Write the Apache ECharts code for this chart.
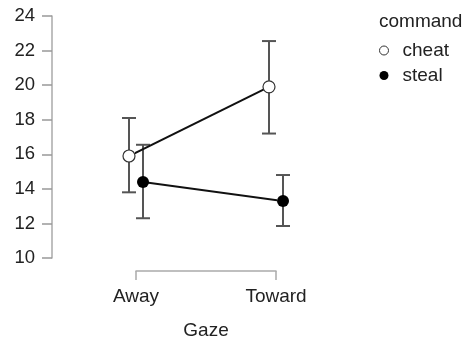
<!DOCTYPE html>
<html>
<head>
<meta charset="utf-8">
<script src="https://cdn.jsdelivr.net/npm/echarts@6/dist/echarts.min.js"></script>
<style>html,body{margin:0;padding:0;background:#fff}#c{width:463px;height:341px}</style>
</head>
<body>
<div id="c"></div>
<script>
var categories = ['Away', 'Toward'];
var cheatMean = [15.9, 19.9];
var cheatLow = [13.8, 17.2];
var cheatHigh = [18.1, 22.55];
var stealMean = [14.4, 13.3];
var stealLow = [12.3, 11.85];
var stealHigh = [16.55, 14.8];
var yTicks = [10, 12, 14, 16, 18, 20, 22, 24];
var dodge = 0.05;
var FONT = 'Liberation Sans, Arial, sans-serif';

function pts(mean, off) { return mean.map(function (v, i) { return [i + 1 + off, v]; }); }
function errs(lo, hi, off) { return lo.map(function (v, i) { return [i + 1 + off, v, hi[i]]; }); }

function errRender(params, api) {
  var x = api.value(0);
  var p1 = api.coord([x, api.value(1)]);
  var p2 = api.coord([x, api.value(2)]);
  var w = 7;
  var st = { stroke: '#555', lineWidth: 2 };
  return {
    type: 'group',
    children: [
      { type: 'line', shape: { x1: p1[0], y1: p1[1], x2: p2[0], y2: p2[1] }, style: st },
      { type: 'line', shape: { x1: p1[0] - w, y1: p1[1], x2: p1[0] + w, y2: p1[1] }, style: st },
      { type: 'line', shape: { x1: p2[0] - w, y1: p2[1], x2: p2[0] + w, y2: p2[1] }, style: st }
    ]
  };
}

var chart = echarts.init(document.getElementById('c'));
chart.setOption({
  animation: false,
  textStyle: { fontFamily: FONT },
  title: {
    text: 'command', left: 379, top: 12,
    padding: 0,
    textStyle: { fontSize: 19, fontWeight: 'normal', color: '#222', fontFamily: FONT }
  },
  legend: {
    orient: 'vertical', left: 379, top: 41, padding: 0,
    itemWidth: 9, itemHeight: 9, itemGap: 6,
    textStyle: { fontSize: 19, color: '#222', fontFamily: FONT, padding: [0, 0, 0, 9] },
    data: [
      { name: 'cheat', icon: 'circle', itemStyle: { color: '#fff', borderColor: '#333', borderWidth: 1 } },
      { name: 'steal', icon: 'circle', itemStyle: { color: '#000', borderColor: '#000', borderWidth: 0 } }
    ]
  },
  grid: { left: 136, right: 187, top: 16, bottom: 83, containLabel: false, outerBoundsMode: 'none' },
  xAxis: {
    type: 'value', min: 1, max: 2, interval: 1, offset: 13,
    splitLine: { show: false },
    axisLine: { show: true, lineStyle: { color: '#aaa', width: 1.5 } },
    axisTick: { show: true, length: 9, lineStyle: { color: '#aaa', width: 1.5 } },
    axisLabel: {
      margin: 16, fontSize: 19, color: '#222', fontFamily: FONT,
      formatter: function (v) { return categories[Math.round(v) - 1] || ''; }
    },
    name: 'Gaze', nameLocation: 'middle', nameGap: 50,
    nameTextStyle: { fontSize: 19, color: '#222', fontFamily: FONT }
  },
  yAxis: {
    type: 'value', min: yTicks[0], max: yTicks[yTicks.length - 1], interval: 2, offset: 84,
    splitLine: { show: false },
    axisLine: { show: true, lineStyle: { color: '#aaa', width: 1.5 } },
    axisTick: { show: true, length: 10, lineStyle: { color: '#999', width: 1.5 } },
    axisLabel: { margin: 17, fontSize: 18.5, color: '#222', fontFamily: FONT }
  },
  series: [
    { type: 'custom', name: 'cheatErr', renderItem: errRender, data: errs(cheatLow, cheatHigh, -dodge), clip: false, z: 1, silent: true },
    { type: 'custom', name: 'stealErr', renderItem: errRender, data: errs(stealLow, stealHigh, dodge), clip: false, z: 1, silent: true },
    {
      type: 'line', name: 'cheat', data: pts(cheatMean, -dodge), clip: false, z: 3,
      symbol: 'circle', symbolSize: 12,
      lineStyle: { color: '#111', width: 2 },
      itemStyle: { color: '#fff', borderColor: '#333', borderWidth: 1.2 }
    },
    {
      type: 'line', name: 'steal', data: pts(stealMean, dodge), clip: false, z: 3,
      symbol: 'circle', symbolSize: 12,
      lineStyle: { color: '#111', width: 2 },
      itemStyle: { color: '#000', borderColor: '#000', borderWidth: 0 }
    }
  ]
});
</script>
</body>
</html>
